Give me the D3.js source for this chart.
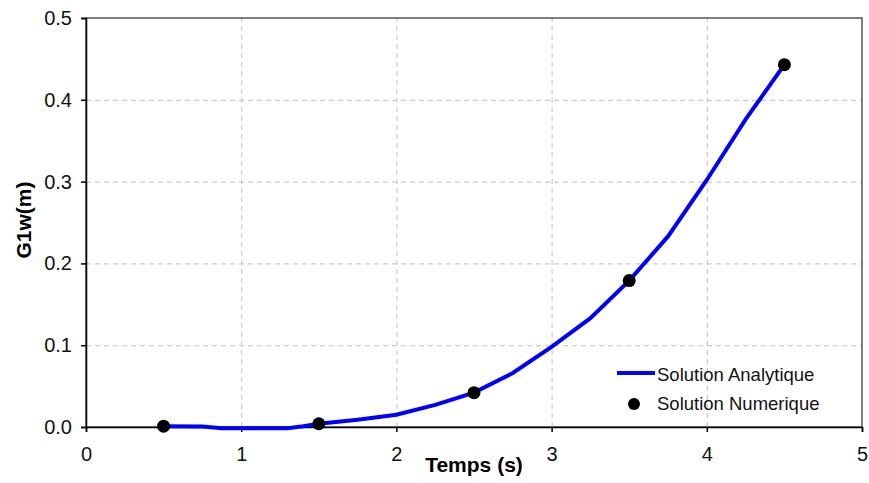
<!DOCTYPE html>
<html>
<head>
<meta charset="utf-8">
<script src="https://cdn.jsdelivr.net/npm/d3@7"></script>
<style>
  body { margin: 0; background: #fff; }
  .tick text { font-family: "Liberation Sans", Arial, sans-serif; font-size: 20px; fill: #111; }
  .grid line { stroke: #c0c0c0; stroke-dasharray: 5,4; stroke-width: 1; }
  .grid .domain { display: none; }
  .title { font-family: "Liberation Sans", Arial, sans-serif; font-weight: bold; font-size: 21px; fill: #000; }
  .legend text { font-family: "Liberation Sans", Arial, sans-serif; font-size: 18.5px; fill: #111; }
</style>
</head>
<body>
<div id="chart"></div>
<script>
// Solution analytique (courbe)
const tAnalytique = [0.5, 0.75, 0.875, 1.0, 1.25, 1.3, 1.4, 1.5, 1.75, 2.0, 2.25, 2.5, 2.75, 3.0, 3.25, 3.5, 3.75, 4.0, 4.25, 4.5];
const wAnalytique = [0.001, 0.0005, -0.0015, -0.0016, -0.0016, -0.0015, 0.001, 0.004, 0.009, 0.015, 0.027, 0.042, 0.066, 0.098, 0.133, 0.179, 0.233, 0.302, 0.376, 0.443];

// Solution numerique (points)
const tNumerique = [0.5, 1.5, 2.5, 3.5, 4.5];
const wNumerique = [0.001, 0.004, 0.042, 0.179, 0.443];

const xTicks = [0, 1, 2, 3, 4, 5];
const yTicks = [0, 0.1, 0.2, 0.3, 0.4, 0.5];

const margin = {top: 18, right: 7, bottom: 56, left: 86};
const svgWidth = 869, svgHeight = 483;
const width = svgWidth - margin.left - margin.right;
const height = svgHeight - margin.top - margin.bottom;

const svg = d3.select("#chart").append("svg")
    .attr("width", svgWidth)
    .attr("height", svgHeight)
  .append("g")
    .attr("transform", `translate(${margin.left},${margin.top})`);

const x = d3.scaleLinear().domain([0, 5]).range([0, width]);
const y = d3.scaleLinear().domain([0, 0.5]).range([height, 0]);

// grille
svg.append("g").attr("class", "grid")
    .call(d3.axisLeft(y).tickValues(yTicks.slice(1, -1)).tickSize(-width).tickFormat(""));
svg.append("g").attr("class", "grid")
    .attr("transform", `translate(0,${height})`)
    .call(d3.axisBottom(x).tickValues(xTicks.slice(1, -1)).tickSize(-height).tickFormat(""));

// cadre
svg.append("rect")
    .attr("width", width).attr("height", height)
    .attr("fill", "none").attr("stroke", "#555").attr("stroke-width", 1.5);

// axes
const xAxis = svg.append("g")
    .attr("transform", `translate(0,${height})`)
    .call(d3.axisBottom(x).tickValues(xTicks).tickSize(5).tickPadding(15).tickFormat(d3.format("d")));
const yAxis = svg.append("g")
    .call(d3.axisLeft(y).tickValues(yTicks).tickSize(5).tickPadding(9).tickFormat(d3.format(".1f")));
[xAxis, yAxis].forEach(a => {
    a.select(".domain").attr("stroke", "#000").attr("stroke-width", 1.5);
    a.selectAll(".tick line").attr("stroke", "#000").attr("stroke-width", 1.5);
});

// courbe analytique
const line = d3.line()
    .x((d, i) => x(tAnalytique[i]))
    .y(d => y(d));
svg.append("path")
    .datum(wAnalytique)
    .attr("fill", "none")
    .attr("stroke", "#0000ff")
    .attr("stroke-width", 4)
    .attr("d", line);

// points numeriques
svg.selectAll(".pt")
    .data(wNumerique)
    .enter().append("circle")
    .attr("class", "pt")
    .attr("cx", (d, i) => x(tNumerique[i]))
    .attr("cy", d => y(d))
    .attr("r", 6.5)
    .attr("fill", "#000");

// titres
svg.append("text")
    .attr("class", "title")
    .attr("x", 474 - margin.left)
    .attr("y", height + 45)
    .attr("text-anchor", "middle")
    .text("Temps (s)");
svg.append("text")
    .attr("class", "title")
    .attr("transform", `translate(${31 - margin.left},${220 - margin.top}) rotate(-90)`)
    .attr("text-anchor", "middle")
    .text("G1w(m)");

// legende
const legend = svg.append("g").attr("class", "legend")
    .attr("transform", `translate(${617 - margin.left},${373 - margin.top})`);
legend.append("line")
    .attr("x1", 0).attr("x2", 38).attr("y1", 0).attr("y2", 0)
    .attr("stroke", "#0000ff").attr("stroke-width", 4);
legend.append("text").attr("x", 40).attr("y", 8).text("Solution Analytique");
legend.append("circle").attr("cx", 17).attr("cy", 31).attr("r", 6).attr("fill", "#000");
legend.append("text").attr("x", 40).attr("y", 37).text("Solution Numerique");
</script>
</body>
</html>
